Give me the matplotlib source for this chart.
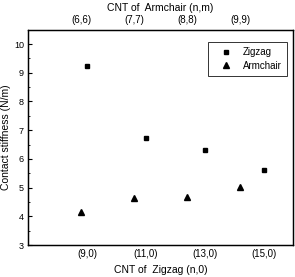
import matplotlib
matplotlib.use("Agg")
import matplotlib.pyplot as plt

plt.rcParams['font.family'] = ['Liberation Sans', 'DejaVu Sans']

# data
zigzag_n = [9, 11, 13, 15]
zigzag_k = [9.22, 6.74, 6.30, 5.60]
armchair_n = [6, 7, 8, 9]
armchair_k = [4.17, 4.64, 4.66, 5.01]
zigzag_labels = ['(9,0)', '(11,0)', '(13,0)', '(15,0)']
armchair_labels = ['(6,6)', '(7,7)', '(8,8)', '(9,9)']
y_ticks = [3, 4, 5, 6, 7, 8, 9, 10]

fig = plt.figure(figsize=(2.95, 2.77), dpi=100)
ax = fig.add_axes([0.095, 0.115, 0.898, 0.778])
ax2 = ax.twiny()

h1, = ax.plot(zigzag_n, zigzag_k, 's', color='black', markersize=3, label='Zigzag')
h2, = ax2.plot(armchair_n, armchair_k, '^', color='black', markersize=3.8, label='Armchair')

ax.set_xlim(7, 16)
ax2.set_xlim(5, 10)
ax.set_ylim(3, 10.5)

ax.set_xticks(zigzag_n)
ax.set_xticklabels(zigzag_labels)
ax2.set_xticks(armchair_n)
ax2.set_xticklabels(armchair_labels)
ax.set_yticks(y_ticks)
ax.set_yticks([3.5, 4.5, 5.5, 6.5, 7.5, 8.5, 9.5], minor=True)

ax.tick_params(axis='x', length=0, labelsize=7, pad=3)
ax2.tick_params(axis='x', length=0, labelsize=7, pad=3)
ax.tick_params(axis='y', which='major', direction='in', length=3, labelsize=6.5, pad=3)
ax.tick_params(axis='y', which='minor', direction='in', length=1.5)

ax.set_xlabel('CNT of  Zigzag (n,0)', fontsize=7.5, labelpad=4)
ax2.set_xlabel('CNT of  Armchair (n,m)', fontsize=7.5, labelpad=3)
ax.set_ylabel('Contact stiffness (N/m)', fontsize=7.5, labelpad=2)

for a in (ax, ax2):
    for s in a.spines.values():
        s.set_linewidth(0.9)

leg = ax.legend([h1, h2], ['Zigzag', 'Armchair'], loc='upper right',
                bbox_to_anchor=(0.977, 0.942), borderaxespad=0, fancybox=False,
                edgecolor='black', fontsize=7, handletextpad=0.5,
                handlelength=2.6, borderpad=0.5, labelspacing=0.4)
leg.get_frame().set_linewidth(0.7)

fig.savefig('out.png', dpi=100)
